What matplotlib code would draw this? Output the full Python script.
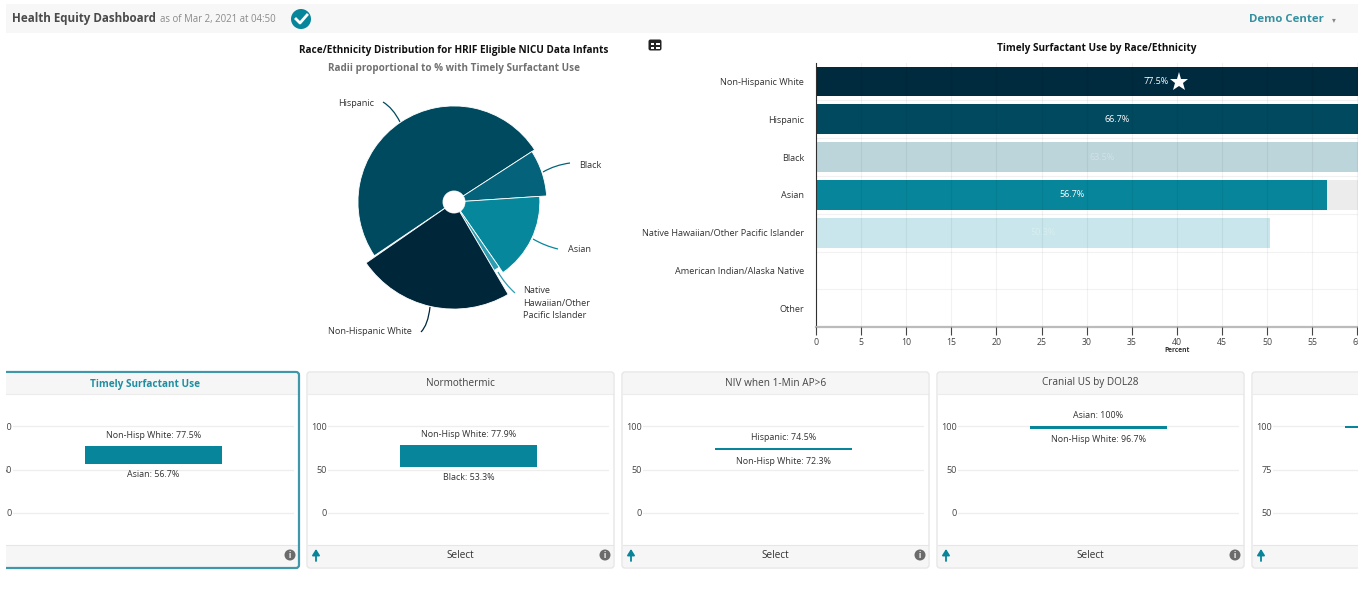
"""Health equity dashboard: radial pie, ranked bars and a row of range cards."""
import matplotlib

matplotlib.use("Agg")
import matplotlib.pyplot as plt
import numpy as np
from matplotlib.patches import Circle, FancyBboxPatch, PathPatch, Rectangle
from matplotlib.path import Path

WIDTH, HEIGHT = 1364, 592

PIE_GROUPS = ["Hispanic", "Black", "Asian", "Native Hawaiian/Other Pacific Islander",
              "Non-Hispanic White"]
PIE_SHARES = [50.3, 8.1, 16.4, 1.2, 23.8]
PIE_RADII = [66.7, 63.5, 56.7, 50.3, 77.5]
PIE_COLORS = ["#004a60", "#04627a", "#07879c", "#2f9db1", "#00263a"]

BAR_GROUPS = ["Non-Hispanic White", "Hispanic", "Black", "Asian",
              "Native Hawaiian/Other Pacific Islander",
              "American Indian/Alaska Native", "Other"]
BAR_VALUES = [77.5, 66.7, 63.5, 56.7, 50.3]
BAR_COLORS = ["#002a3e", "#00495f", "#bcd5db", "#07859a", "#c8e6eb"]
BAR_TEXT_ALPHA = [1, 1, 0.3, 1, 0.3]
BAR_TICKS = list(range(0, 65, 5))

CARD_LEFTS = [-8, 307, 622, 937, 1252]
CARD_TITLES = ["Timely Surfactant Use", "Normothermic", "NIV when 1-Min AP>6",
               "Cranial US by DOL28", ""]
CARD_HIGH = [77.5, 77.9, 74.5, 100, 100]
CARD_LOW = [56.7, 53.3, 72.3, 96.7, 99]
CARD_HIGH_NAMES = ["Non-Hisp White", "Non-Hisp White", "Hispanic", "Asian", ""]
CARD_LOW_NAMES = ["Asian", "Black", "Non-Hisp White", "Non-Hisp White", ""]
CARD_TICKS = [[0, 50, 100], [0, 50, 100], [0, 50, 100], [0, 50, 100], [50, 75, 100]]

TEAL = "#07859a"
plt.rcParams["font.family"] = ["Open Sans", "DejaVu Sans"]


def _pixel_axes(fig, x0, y0, x1, y1, **kwargs):
    """Adds axes placed by pixel box, with y measured from the top."""
    rect = [x0 / WIDTH, 1 - y1 / HEIGHT, (x1 - x0) / WIDTH, (y1 - y0) / HEIGHT]
    return fig.add_axes(rect, **kwargs)


def _leader(ax, start, bend, end, color):
    path = Path([start, bend, end], [Path.MOVETO, Path.CURVE3, Path.CURVE3])
    ax.add_patch(PathPatch(path, fill=False, edgecolor=color, linewidth=0.9))


def _draw_header(ax):
    ax.add_patch(Rectangle((6, 4), 1352, 29, color="#f7f7f7", linewidth=0))
    ax.text(12, 18.5, "Health Equity Dashboard", fontsize=8.4, weight="bold",
            color="#4a4a4a", va="center")
    ax.text(160, 19.5, "as of Mar 2, 2021 at 04:50", fontsize=6.9, color="#8a8a8a", va="center")
    ax.add_patch(Circle((301, 19), 10, color=TEAL, linewidth=0))
    ax.plot([296, 300, 307], [19, 23, 15], color="white", linewidth=2)
    ax.text(1249, 19, "Demo Center", fontsize=8.2, weight="bold", color="#35909f", va="center")
    ax.text(1334, 19.5, "▾", fontsize=5.5, color="#888888", ha="center", va="center",
            family=["DejaVu Sans"])


def _draw_pie(fig, overlay):
    overlay.text(454, 50, "Race/Ethnicity Distribution for HRIF Eligible NICU Data Infants",
                 fontsize=7.2, weight="bold", color="#111111", ha="center", va="center")
    overlay.text(454, 69, "Radii proportional to % with Timely Surfactant Use",
                 fontsize=7.1, weight="bold", color="#707070", ha="center", va="center")

    ax = _pixel_axes(fig, 324, 72, 584, 332, projection="polar")
    ax.set_theta_offset(np.radians(214))
    ax.set_theta_direction(-1)
    widths = np.radians(np.array(PIE_SHARES) * 3.6)
    starts = np.concatenate(([0], np.cumsum(widths)[:-1]))
    hole = -16.7
    ax.bar(starts, np.array(PIE_RADII) - hole, width=widths, bottom=hole, align="edge",
           color=PIE_COLORS, edgecolor="white", linewidth=0.6)
    ax.set_ylim(hole, 100)
    ax.set_rorigin(-27.5)
    ax.set_axis_off()

    _leader(overlay, (383, 102), (393, 108), (400, 122), PIE_COLORS[0])
    _leader(overlay, (543, 172), (555, 165), (570, 163), PIE_COLORS[1])
    _leader(overlay, (533, 239), (545, 246), (558, 249), PIE_COLORS[2])
    _leader(overlay, (498, 272), (505, 284), (515, 293), PIE_COLORS[3])
    _leader(overlay, (430, 307), (428, 325), (421, 332), PIE_COLORS[4])
    style = dict(fontsize=6.6, color="#333333", va="center")
    overlay.text(356, 103, "Hispanic", ha="center", **style)
    overlay.text(590, 165, "Black", ha="center", **style)
    overlay.text(579, 250, "Asian", ha="center", **style)
    overlay.text(523, 303, "Native\nHawaiian/Other\nPacific Islander", ha="left",
                 linespacing=1.45, **style)
    overlay.text(369.5, 332, "Non-Hispanic White", ha="center", **style)


def _draw_table_icon(ax):
    ax.add_patch(FancyBboxPatch((649, 40), 12, 10, boxstyle="round,pad=0.5,rounding_size=2",
                                facecolor="#222222", edgecolor="none"))
    for x in (650.5, 656):
        for y in (42.5, 46.5):
            ax.add_patch(Rectangle((x, y), 3.6, 2.6, color="white", linewidth=0))


def _draw_bars(fig, overlay):
    overlay.text(1097, 49, "Timely Surfactant Use by Race/Ethnicity", fontsize=7.2,
                 weight="bold", color="#111111", ha="center", va="center")
    _draw_table_icon(overlay)

    ax = _pixel_axes(fig, 816, 62.6, 1357.5, 327.2)
    ax.patch.set_alpha(0)
    rows = np.arange(len(BAR_GROUPS))
    ax.barh(rows[:len(BAR_VALUES)], BAR_VALUES, height=0.79, color=BAR_COLORS, zorder=2)
    ax.barh(3, BAR_TICKS[-1] + 1 - BAR_VALUES[3], left=BAR_VALUES[3], height=0.79,
            color="#ececec", zorder=1)
    ax.set_xlim(0, 60.03)
    ax.set_ylim(len(BAR_GROUPS) - 0.5, -0.5)
    ax.set_yticks(rows, BAR_GROUPS)
    ax.set_yticks(rows[:-1] + 0.5, minor=True)
    ax.set_xticks(BAR_TICKS)
    ax.tick_params(axis="y", which="both", length=0, pad=8.5, labelsize=6.6, labelcolor="#333333")
    ax.tick_params(axis="x", length=6, width=0.8, color="#444444", pad=2, labelsize=6.3,
                   labelcolor="#444444")
    ax.grid(axis="x", color="black", alpha=0.05, linewidth=0.8, zorder=3)
    ax.grid(axis="y", which="minor", color="black", alpha=0.05, linewidth=0.8, zorder=3)
    ax.set_axisbelow(False)
    ax.set_xlabel("Percent", fontsize=4.8, weight="bold", color="#333333", labelpad=-3)
    ax.xaxis.set_label_coords(0.667, -0.075)
    for side in ("top", "right"):
        ax.spines[side].set_visible(False)
    ax.spines["left"].set_color("#333333")
    ax.spines["bottom"].set_color("#bbbbbb")
    ax.spines["bottom"].set_linewidth(1.6)

    for row, (value, alpha) in enumerate(zip(BAR_VALUES, BAR_TEXT_ALPHA)):
        shift = -6.5 if row == 0 else 0
        ax.annotate(f"{value}%", (value / 2, row), xytext=(shift, 0), textcoords="offset points",
                    fontsize=6.5, color="white", alpha=alpha,
                    ha="center", va="center", zorder=4)
    ax.plot([40.2], [0], marker="*", markersize=14, color="white",
            markeredgewidth=0, zorder=4)


def _draw_card(fig, overlay, left, title, high, low, high_name, low_name, ticks, selected):
    right = left + 307
    top, bottom = 372, 568
    border = "#3f97a9" if selected else "#e6e6e6"
    inset = 1.5 if selected else 0.7
    # fills first, then the outline so it stays unbroken around header and footer
    overlay.add_patch(FancyBboxPatch((left, top), right - left, bottom - top,
                                     boxstyle="round,pad=0,rounding_size=3", facecolor="white",
                                     edgecolor="none"))
    overlay.add_patch(Rectangle((left + inset, top + inset), right - left - 2 * inset,
                                394 - top - inset, color="#f6f6f6", linewidth=0))
    overlay.add_patch(Rectangle((left + inset, 545), right - left - 2 * inset,
                                bottom - 545 - inset, color="#f6f6f6", linewidth=0))
    overlay.plot([left + inset, right - inset], [394, 394], color="#ececec", linewidth=0.8)
    overlay.plot([left + inset, right - inset], [545, 545], color="#e6e6e6", linewidth=0.8)
    overlay.add_patch(FancyBboxPatch((left, top), right - left, bottom - top,
                                     boxstyle="round,pad=0,rounding_size=3", facecolor="none",
                                     edgecolor=border, linewidth=1.6 if selected else 1.0,
                                     zorder=2.5))
    overlay.text(left + 153.5, 384.5 if selected else 383, title, fontsize=7.2,
                 ha="center", va="center", weight="bold" if selected else "normal",
                 color="#1f8ea1" if selected else "#444444")
    if right <= WIDTH and not selected:
        overlay.text(left + 153, 555.5, "Select", fontsize=7.2, color="#333333",
                     ha="center", va="center")
    overlay.annotate("", xy=(left + 9, 549), xytext=(left + 9, 561),
                     arrowprops=dict(arrowstyle="-|>,head_width=0.22,head_length=0.35",
                                     color=TEAL, linewidth=1.3, shrinkA=0, shrinkB=0))
    if right <= WIDTH:
        overlay.add_patch(Circle((right - 9, 555), 5.5, color="#6b6b6b", linewidth=0))
        overlay.text(right - 9, 555, "i", fontsize=5.5, weight="bold", color="white",
                     ha="center", va="center")

    ax = _pixel_axes(fig, left + 21, 395, left + 302, 544)
    ax.patch.set_alpha(0)
    units_per_px = (ticks[-1] - ticks[0]) / 87
    ax.set_ylim(ticks[0] - 31 * units_per_px, ticks[-1] + 31 * units_per_px)
    ax.set_xlim(-0.5, 0.5)
    ax.bar([0], [high - low], bottom=[low], width=0.484, color=TEAL, zorder=3)
    ax.set_xticks([])
    ax.set_yticks(ticks)
    ax.tick_params(axis="y", length=0, pad=1, labelsize=6.6, labelcolor="#444444")
    ax.grid(axis="y", color="#eeeeee", linewidth=0.9)
    ax.set_axisbelow(True)
    for spine in ax.spines.values():
        spine.set_visible(False)
    if high_name:
        ax.annotate(f"{high_name}: {high:g}%", (0, high), xytext=(0, 7.5),
                    textcoords="offset points", fontsize=6.4, color="#333333",
                    ha="center", va="center")
        ax.annotate(f"{low_name}: {low:g}%", (0, low), xytext=(0, -8),
                    textcoords="offset points", fontsize=6.4, color="#333333",
                    ha="center", va="center")


def _main() -> None:
    fig = plt.figure(figsize=(WIDTH / 100, HEIGHT / 100), dpi=100, facecolor="white")
    overlay = fig.add_axes([0, 0, 1, 1], zorder=0)
    overlay.set_xlim(0, WIDTH)
    overlay.set_ylim(HEIGHT, 0)
    overlay.axis("off")

    _draw_header(overlay)
    _draw_pie(fig, overlay)
    _draw_bars(fig, overlay)
    for i, left in enumerate(CARD_LEFTS):
        _draw_card(fig, overlay, left, CARD_TITLES[i], CARD_HIGH[i], CARD_LOW[i],
                   CARD_HIGH_NAMES[i], CARD_LOW_NAMES[i], CARD_TICKS[i], i == 0)

    # the page is cut off at both sides
    mask = fig.add_axes([0, 0, 1, 1], zorder=20)
    mask.set_xlim(0, WIDTH)
    mask.set_ylim(HEIGHT, 0)
    mask.axis("off")
    mask.add_patch(Rectangle((0, 0), 6, HEIGHT, color="white", linewidth=0))
    mask.add_patch(Rectangle((1358, 0), 6, HEIGHT, color="white", linewidth=0))

    fig.savefig("out.png", dpi=100, facecolor="white")


if __name__ == "__main__":
    _main()
